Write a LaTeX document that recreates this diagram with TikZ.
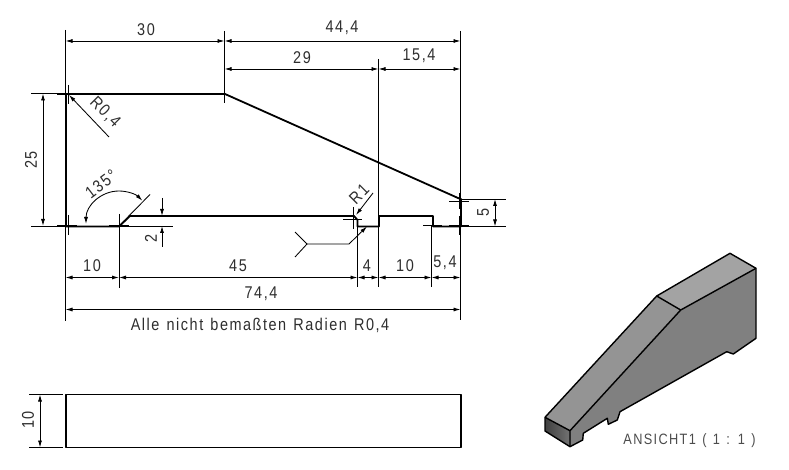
\documentclass[tikz,border=0pt]{standalone}
\usepackage{fontspec}
\setmainfont{Liberation Sans}[FakeStretch=0.85,LetterSpace=9,WordSpace=1.3]
\usetikzlibrary{arrows.meta}
\definecolor{txt}{HTML}{2E2E2E}
\tikzset{
  part/.style={line width=1.8pt,line join=round,black},
  thin/.style={line width=0.85pt,black},
  dimline/.style={thin,{Latex[length=7pt,width=4pt]}-{Latex[length=7pt,width=4pt]}},
  tiparrow/.style={thin,-{Latex[length=7pt,width=4pt]}},
  lab/.style={inner sep=0pt,text=txt,font=\fontsize{17}{20}\selectfont},
  iso/.style={line width=1.4pt,line join=round,black},
}
\begin{document}
\begin{tikzpicture}[x=1pt,y=-1pt]
\useasboundingbox[fill=white] (0,0) rectangle (789,470);
% part outline
\coordinate (TL) at (66,94);
\coordinate (TM) at (225,94);
\coordinate (TR) at (461,199);
\coordinate (BR) at (461,226.5);
\coordinate (BL) at (66,226.5);
\coordinate (CH) at (119,226.5);
\draw[part] (TL) -- (TM) -- (458,198) -- (TR) -- (BR) -- (433,226.5) -- (433,216) -- (379,216) -- (379,226.5) -- (357.5,226.5) -- (357.5,220) -- (354,216) -- (130,216) -- (CH) -- (BL) -- cycle;
% extension lines
\draw[thin] (65.5,30) -- (65.5,94);
\draw[thin] (65.5,226) -- (65.5,321);
\draw[thin] (224.5,31) -- (224.5,103);
\draw[thin] (378.5,59) -- (378.5,216);
\draw[thin] (378.5,226) -- (378.5,287);
\draw[thin] (460.5,31) -- (460.5,199);
\draw[thin] (460.5,226) -- (460.5,320);
\draw[thin] (119,214) -- (119,288);
\draw[thin] (357.5,226) -- (357.5,287);
\draw[thin] (431.5,226) -- (431.5,287);
\draw[thin] (31,93.5) -- (66,93.5);
\draw[thin] (31,226) -- (172.5,226);
\draw[thin] (142,216) -- (172,216);
\draw[thin] (461,199) -- (506,199);
\draw[thin] (461,226.5) -- (506,226.5);
\draw[thin] (119,226) -- (150,194.5);
% centre marks
\draw[thin] (57,94.5) -- (77,94.5) (68,85) -- (68,104);
\draw[thin] (57,225) -- (77,225) (68,215) -- (68,235);
\draw[thin] (109,225) -- (129,225);
\draw[thin] (343,219) -- (362,219) (353,207) -- (353,229);
\draw[thin] (423,225) -- (442,225);
\draw[thin] (449,225) -- (469,225) (459,216) -- (459,235);
\draw[thin] (449,201) -- (469,201) (459,193) -- (459,209);
% dimensions
\draw[dimline] (65.5,41) -- (224.5,41);
\draw[dimline] (224.5,41) -- (460.5,41);
\draw[dimline] (224.5,69) -- (378.5,69);
\draw[dimline] (378.5,69) -- (460.5,69);
\draw[dimline] (43,93.5) -- (43,226);
\draw[dimline] (495,199) -- (495,226.5);
\draw[dimline] (65.5,277.5) -- (119,277.5);
\draw[dimline] (119,277.5) -- (357.5,277.5);
\draw[dimline] (357.5,277.5) -- (378.5,277.5);
\draw[dimline] (378.5,277.5) -- (431.5,277.5);
\draw[dimline] (431.5,277.5) -- (460.5,277.5);
\draw[dimline] (65.5,309.5) -- (460.5,309.5);
\draw[tiparrow] (162,198) -- (162,216);
\draw[tiparrow] (162,247) -- (162,226);
\draw[dimline] (86,224) arc[start angle=180,end angle=45,x radius=33,y radius=-33];
\draw[tiparrow] (109,137) -- (69,95);
\draw[tiparrow] (373,193) -- (356,215);
\draw[tiparrow] (307,244) -- (349,244) -- (367,226.5);
\draw[thin] (295,232) -- (307,244) -- (295,257);
% labels
\node[lab] (l30) at (146,30) {30};
\node[lab] (l444) at (342,28) {44,4};
\node[lab] (l29) at (302,58) {29};
\node[lab] (l154) at (419,56) {15,4};
\node[lab,rotate=90] (l25) at (31,160) {25};
\node[lab,rotate=-45] (lr04) at (105,112) {R0,4};
\node[lab,rotate=37] (l135) at (101,184) {135°};
\node[lab,rotate=90] (l2) at (151,238) {2};
\node[lab,rotate=45] (lr1) at (359,194) {R1};
\node[lab,rotate=90] (l5) at (483,212) {5};
\node[lab] (l10a) at (92,266) {10};
\node[lab] (l45) at (238,266) {45};
\node[lab] (l4) at (367,266) {4};
\node[lab] (l10b) at (405,266) {10};
\node[lab] (l54) at (445,263) {5,4};
\node[lab] (l744) at (261,294) {74,4};
\node[lab] (note) at (260,325) {Alle nicht bemaßten Radien R0,4};
% front view
\draw[part] (66,394.5) rectangle (461,447.5);
\draw[thin] (29,394.5) -- (63,394.5);
\draw[thin] (29,447.5) -- (63,447.5);
\draw[dimline] (40,394.5) -- (40,447.5);
\node[lab,rotate=90] (l10c) at (28,420) {10};
% isometric view
\coordinate (A) at (730,253.3);
\coordinate (B) at (756,268.3);
\coordinate (C) at (680.7,310);
\coordinate (D) at (656.7,296);
\coordinate (E) at (570,430.7);
\coordinate (F) at (545,417.3);
\coordinate (G) at (570,446.7);
\coordinate (H) at (545,431);
\fill[black!50] (E) -- (C) -- (B) -- (756,338.3) -- (733.3,354) .. controls (730,353) .. (726.7,351.7) -- (620,411.7) .. controls (619,416) .. (617.3,420) -- (608.3,424.3) -- (607.3,418.3) -- (583.3,433.3) -- (582.7,440) -- (G) -- cycle;
\fill[black!42] (F) -- (D) -- (C) -- (E) -- cycle;
\fill[black!36] (D) -- (A) -- (B) -- (C) -- cycle;
\fill[left color=black!75,right color=black!55] (F) -- (E) -- (G) -- (H) -- cycle;
\draw[iso] (F) -- (D) -- (A) -- (B) -- (756,338.3) -- (733.3,354) .. controls (730,353) .. (726.7,351.7) -- (620,411.7) .. controls (619,416) .. (617.3,420) -- (608.3,424.3) -- (607.3,418.3) -- (583.3,433.3) -- (582.7,440) -- (G) -- (H) -- cycle;
\draw[iso] (F) -- (E) -- (G) (E) -- (C) -- (B) (D) -- (C);
\node[lab,font=\fontsize{15}{18}\selectfont,text=black!70] (view) at (689.5,441) {ANSICHT1 ( 1 : 1 )};
\end{tikzpicture}
\end{document}
